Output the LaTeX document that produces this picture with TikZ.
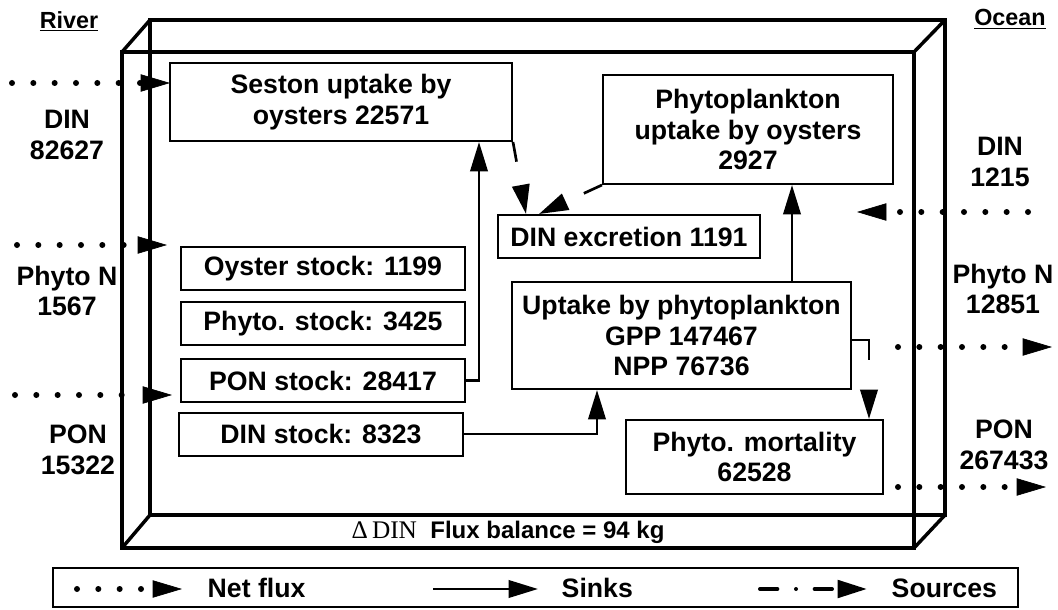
\documentclass[tikz,border=0pt]{standalone}
\usepackage{fontspec}
\setmainfont{Liberation Sans}
\newfontfamily\deltafont{Liberation Serif}
\usetikzlibrary{arrows.meta,calc}

\tikzset{
  box/.style 2 args={draw,line width=1.5pt,align=center,inner sep=0pt,
    minimum width=#1*0.75pt,minimum height=#2*0.75pt},
  wall/.style={line width=2.6pt},
  sink/.style={line width=2pt,-{Triangle[length=22pt,width=13pt]}},
  source/.style={line width=2pt,dash pattern=on 15pt off 30pt,
    -{Triangle[length=22pt,width=13pt]}},
  netflux/.style={line width=4.5pt,line cap=round,dash pattern=on 0pt off 16pt,
    -{Triangle[length=22pt,width=13pt,line width=0.5pt]}},
}

\begin{document}
\begin{tikzpicture}[x=0.75pt,y=-0.75pt,font=\bfseries\fontsize{20}{23}\selectfont]
  \useasboundingbox (0,0) rectangle (1058,610);
  % estuary box, front and back faces
  \coordinate (fnw) at (122,52);  \coordinate (fne) at (914,52);
  \coordinate (fsw) at (122,548); \coordinate (fse) at (914,548);
  \coordinate (bnw) at (150,20);  \coordinate (bne) at (945,20);
  \coordinate (bsw) at (150,515); \coordinate (bse) at (945,515);
  \draw[wall] (fnw) rectangle (fse);
  \draw[wall] (bnw) rectangle (bse);
  \foreach \f/\b in {fnw/bnw,fne/bne,fsw/bsw,fse/bse}{\draw[wall] (\f) -- (\b);}
  \node[font=\bfseries\fontsize{18}{20}\selectfont] (bal) at (508,532)
    {{\mdseries\deltafont\fontsize{19}{20}\selectfont Δ\,DIN}\ \ Flux balance = 94 kg};
  \node[font=\bfseries\fontsize{17.5}{20}\selectfont] (river) at (69,21) {\underline{River}};
  \node[font=\bfseries\fontsize{17.5}{20}\selectfont] (ocean) at (1010,19) {\underline{Ocean}};
  % process boxes
  \node[box={342}{78}] (seston) at (341,102) {Seston uptake by\\oysters 22571};
  \node[box={290}{109}] (phyoys) at (748,129.5) {Phytoplankton\\uptake by oysters\\2927};
  \node[box={262}{43}] (dinexc) at (629,236.5) {DIN excretion 1191};
  \node[box={339}{107}] (uptake) at (681.5,335.5) {Uptake by phytoplankton\\GPP 147467\\NPP 76736};
  \node[box={257}{74}] (mort) at (754.5,457) {Phyto. mortality\\62528};
  % stocks
  \foreach \n/\x/\y/\t in {oyster/323/268.5/Oyster stock: 1199,
      phytost/323/323.5/Phyto. stock: 3425,
      ponst/323/380.5/PON stock: 28417,
      dinst/321/434/DIN stock: 8323}{
    \node[box={284}{43}] (\n) at (\x,\y) {\t};}
  % internal fluxes
  \coordinate (xup) at (792,0);
  \draw[sink] (ponst.east) -| ($(seston.south east)+(-34,0)$);
  \draw[sink] (dinst.east) -| ($(uptake.south west)+(86,0)$);
  \draw[sink] (uptake.north -| xup) -- (phyoys.south -| xup);
  \draw[source] (seston.south east) -- ($(dinexc.north west)+(29,0)$);
  \draw[source] (phyoys.south west) -- ($(dinexc.north west)+(42,0)$);
  \draw[source,dash pattern=on 28pt off 30pt] ($(uptake.east)+(0,4.5)$) -| ($(mort.north east)+(-15,0)$);
  % river side
  \node[align=center] (rDINl) at (67,135) {DIN\\82627};
  \node[align=center] (rPhyl) at (67,291) {Phyto N\\1567};
  \node[align=center] (rPONl) at (78,450) {PON\\15322};
  \coordinate (rDINa) at (12,83);  \coordinate (rDINb) at (170,83);
  \coordinate (rPhya) at (17,245); \coordinate (rPhyb) at (167,245);
  \coordinate (rPONa) at (15,395); \coordinate (rPONb) at (172,395);
  \draw[netflux] (rDINa) -- (rDINb);
  \draw[netflux] (rPhya) -- (rPhyb);
  \draw[netflux] (rPONa) -- (rPONb);
  % ocean side
  \node[align=center] (oDINl) at (1000,162) {DIN\\1215};
  \node[align=center] (oPhyl) at (1003,289) {Phyto N\\12851};
  \node[align=center] (oPONl) at (1004,445) {PON\\267433};
  \coordinate (oDINa) at (1028,212); \coordinate (oDINb) at (857,212);
  \coordinate (oPhya) at (898,347);  \coordinate (oPhyb) at (1052,347);
  \coordinate (oPONa) at (898,487);  \coordinate (oPONb) at (1046,487);
  \draw[netflux] (oDINa) -- (oDINb);
  \draw[netflux] (oPhya) -- (oPhyb);
  \draw[netflux] (oPONa) -- (oPONb);
  % legend
  \node[draw,line width=1.2pt,minimum width=965*0.75pt,minimum height=39*0.75pt] (legend) at (535.5,587.5) {};
  \coordinate (lNa) at (77,589);  \coordinate (lNb) at (182,589);
  \coordinate (lSa) at (433,589); \coordinate (lSb) at (538,589);
  \coordinate (lOa) at (760,589); \coordinate (lOb) at (867,589);
  \draw[netflux] (lNa) -- (lNb);
  \draw[sink] (lSa) -- (lSb);
  \draw[source,line width=3pt,line cap=round,dash pattern=on 13pt off 14pt on 0pt off 14pt] (lOa) -- (lOb);
  \node[anchor=west] (lNt) at (203,588) {Net flux};
  \node[anchor=west] (lSt) at (557,588) {Sinks};
  \node[anchor=west] (lOt) at (887,588) {Sources};
\end{tikzpicture}
\end{document}
